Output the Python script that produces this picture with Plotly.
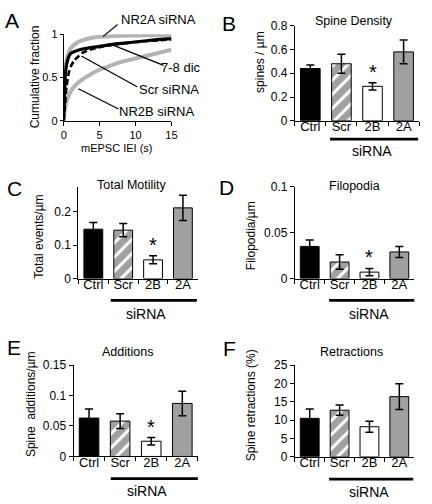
import plotly.graph_objects as go

W, H = 432, 504
FONT = "Arial, Liberation Sans, sans-serif"

# ---------------- Data ----------------
# Panel A: cumulative fraction of mEPSC inter-event intervals (s)
iei_nr2a = [0, 0.1, 0.2, 0.4, 0.7, 1.0, 1.5, 2.0, 3.0, 4.0, 5.0, 7.0, 10.0, 15.0]
cum_nr2a = [0.05, 0.35, 0.55, 0.70, 0.79, 0.84, 0.88, 0.91, 0.94, 0.96, 0.97, 0.98, 0.985, 0.99]
iei_dic = [0, 0.1, 0.2, 0.4, 0.7, 1.0, 1.5, 2.0, 3.0, 5.0, 7.0, 10.0, 12.0, 15.0]
cum_dic = [0.0, 0.30, 0.50, 0.65, 0.74, 0.78, 0.80, 0.815, 0.835, 0.86, 0.885, 0.91, 0.93, 0.95]
iei_scr = [0, 0.2, 0.4, 0.7, 1.0, 1.5, 2.0, 2.5, 3.0, 4.0, 5.0, 7.0, 10.0, 15.0]
cum_scr = [0.0, 0.20, 0.40, 0.55, 0.63, 0.70, 0.74, 0.78, 0.80, 0.83, 0.85, 0.88, 0.91, 0.94]
iei_nr2b = [0, 0.2, 0.5, 1.0, 1.5, 2.0, 3.0, 4.0, 5.0, 6.0, 8.0, 10.0, 12.0, 15.0]
cum_nr2b = [0.05, 0.15, 0.25, 0.34, 0.40, 0.44, 0.50, 0.55, 0.59, 0.62, 0.68, 0.72, 0.76, 0.82]

# Bar panels
categories = ["Ctrl", "Scr", "2B", "2A"]
spine_density = [0.44, 0.48, 0.29, 0.58]
spine_density_err = [0.03, 0.08, 0.03, 0.10]
total_motility = [0.148, 0.145, 0.056, 0.212]
total_motility_err = [0.020, 0.020, 0.012, 0.038]
filopodia = [0.035, 0.018, 0.007, 0.029]
filopodia_err = [0.007, 0.008, 0.004, 0.006]
additions = [0.063, 0.058, 0.025, 0.087]
additions_err = [0.015, 0.012, 0.006, 0.020]
retractions = [10.5, 12.7, 8.2, 16.4]
retractions_err = [2.5, 1.4, 1.5, 3.5]

# ---------------- Helpers ----------------
def px(x):
    return x / W

def py(y):
    return 1 - y / H

fig = go.Figure()
annotations = []
shapes = []

def text(x, y, s, size=12, angle=0, **kw):
    annotations.append(dict(x=px(x), y=py(y), xref="paper", yref="paper", text=s,
                            showarrow=False, textangle=angle, xanchor="center",
                            yanchor="middle", font=dict(family=FONT, size=size, color="black"), **kw))

def line(x0, y0, x1, y1, w=1.2):
    shapes.append(dict(type="line", xref="paper", yref="paper", x0=px(x0), y0=py(y0),
                       x1=px(x1), y1=py(y1), line=dict(color="black", width=w)))

axis_common = dict(showline=True, linecolor="black", linewidth=1, ticks="outside",
                   ticklen=4, tickcolor="black", tickwidth=1, showgrid=False, zeroline=False,
                   tickfont=dict(family=FONT, size=12, color="black"))

# ---------------- Panel A ----------------
curveA = [
    (iei_nr2a, cum_nr2a, dict(color="#b4b4b4", width=4)),
    (iei_nr2b, cum_nr2b, dict(color="#b4b4b4", width=4)),
    (iei_dic, cum_dic, dict(color="black", width=3.2)),
    (iei_scr, cum_scr, dict(color="black", width=2.6, dash="6px,3px")),
]
for xs, ys, ln in curveA:
    fig.add_trace(go.Scatter(x=xs, y=ys, mode="lines", line=dict(shape="spline", smoothing=0.6, **ln),
                             xaxis="x", yaxis="y", showlegend=False, cliponaxis=False))

layout_axes = {}
layout_axes["xaxis"] = dict(axis_common, domain=[px(62), px(172)], range=[0, 15],
                            tickvals=[0, 5, 10, 15], anchor="y",
                            tickfont=dict(family=FONT, size=11, color="black"))
layout_axes["yaxis"] = dict(axis_common, domain=[py(117), py(28)], range=[0, 1],
                            tickvals=[0, 0.5, 1], ticktext=["0", "0.5", "1"], anchor="x",
                            ticklen=3, tickfont=dict(family=FONT, size=11, color="black"))

text(9, 14, "A", size=21)
text(33, 72, "Cumulative fraction", size=12, angle=-90)
text(116, 145, "mEPSC IEI (s)", size=11)
text(159, 13, "NR2A siRNA", size=13)
text(182, 62, "7-8 dic", size=13)
text(170, 85, "Scr siRNA", size=13)
text(157, 107, "NR2B siRNA", size=13)
line(117, 18, 102, 30.5)
line(164, 60, 113, 39.5)
line(137, 82, 80, 50.5)
line(118, 105, 77, 84)

# ---------------- Bar panels ----------------
colors = ["black", "white", "white", "#a0a0a0"]
shapes_pat = ["", "/", "", ""]

panels = [
    dict(i=2, v=spine_density, e=spine_density_err, x0=298, x1=425, yb=117, yt=19.3, top=0.8,
         tv=[0, 0.2, 0.4, 0.6, 0.8], tt=["0", "0.2", "0.4", "0.6", "0.8"],
         letter=("B", 231, 16.5), title=("Spine Density", 358.5, 14),
         ytitle=("spines / µm", 263, 57), line=(334, 424, 136), sirna=(377, 148),
         star=(0.32, 0.0)),
    dict(i=3, v=total_motility, e=total_motility_err, x0=77, x1=199, yb=279.3, yt=185, top=0.275,
         tv=[0, 0.1, 0.2], tt=["0", "0.1", "0.2"],
         letter=("C", 11.5, 186.5), title=("Total Motility", 131.5, 183),
         ytitle=("Total events/µm", 37, 236), line=(110, 198, 301.7), sirna=(146, 315.7),
         star=(0.068, 0.0)),
    dict(i=4, v=filopodia, e=filopodia_err, x0=298, x1=420, yb=279.3, yt=185, top=0.1,
         tv=[0, 0.05, 0.1], tt=["0", "0.05", "0.1"],
         letter=("D", 228.5, 186), title=("Filopodia", 358.5, 184),
         ytitle=("Filopodia/µm", 254, 235), line=(333, 420, 301.7), sirna=(374, 315.7),
         star=(0.011, 0.0)),
    dict(i=5, v=additions, e=additions_err, x0=72, x1=199, yb=462.3, yt=368.3, top=0.15,
         tv=[0, 0.05, 0.1, 0.15], tt=["0", "0.05", "0.1", "0.15"],
         letter=("E", 11.5, 350.5), title=("Additions", 127.5, 355),
         ytitle=("Spine  additions/µm", 28, 408), line=(110, 199, 485), sirna=(147.5, 498),
         star=(0.031, 0.0)),
    dict(i=6, v=retractions, e=retractions_err, x0=298, x1=420, yb=462.7, yt=368.3, top=25,
         tv=[0, 5, 10, 15, 20, 25], tt=["0", "5", "10", "15", "20", "25"],
         letter=("F", 231, 351.5), title=("Retractions", 356, 355),
         ytitle=("Spine retractions (%)", 253, 410), line=(333, 419, 485.7), sirna=(374, 499),
         star=None),
]

for p in panels:
    i = p["i"]
    xa, ya = f"x{i}", f"y{i}"
    fig.add_trace(go.Bar(
        x=categories, y=p["v"], xaxis=xa, yaxis=ya, width=0.63, showlegend=False,
        marker=dict(color=colors, line=dict(color="black", width=1),
                    pattern=dict(shape=shapes_pat, fgcolor="black", bgcolor="white",
                                 size=10, solidity=0.7)),
        error_y=dict(type="data", array=p["e"], visible=True, color="black", thickness=1.5, width=4),
    ))
    layout_axes[f"xaxis{i}"] = dict(axis_common, domain=[px(p["x0"]), px(p["x1"])], anchor=ya,
                                    type="category", range=[-0.5, 3.5], tickson="boundaries",
                                    ticklen=4, ticklabelstandoff=-6,
                                    tickfont=dict(family=FONT, size=13, color="black"))
    layout_axes[f"yaxis{i}"] = dict(axis_common, domain=[py(p["yb"]), py(p["yt"])], anchor=xa,
                                    range=[0, p["top"]], tickvals=p["tv"], ticktext=p["tt"])
    L, lx, ly = p["letter"]
    text(lx, ly, L, size=21)
    T, tx, ty = p["title"]
    text(tx, ty, T, size=12.5)
    Y, yx, yy = p["ytitle"]
    text(yx, yy, Y, size=12, angle=-90)
    lx0, lx1, lyy = p["line"]
    line(lx0, lyy, lx1, lyy, w=2.7)
    sx, sy = p["sirna"]
    text(sx, sy, "siRNA", size=14)
    if p["star"] is not None:
        annotations.append(dict(x="2B", y=p["star"][0], xref=xa, yref=ya, text="*",
                                showarrow=False, xanchor="center", yanchor="bottom", yshift=-2,
                                font=dict(family=FONT, size=20, color="black")))

fig.update_layout(
    width=W, height=H, margin=dict(l=0, r=0, t=0, b=0),
    paper_bgcolor="white", plot_bgcolor="white",
    annotations=annotations, shapes=shapes, bargap=0.37,
    **layout_axes,
)

fig.write_html("out.html", config={"displayModeBar": False},
               post_script="document.body.style.margin='0px';")
